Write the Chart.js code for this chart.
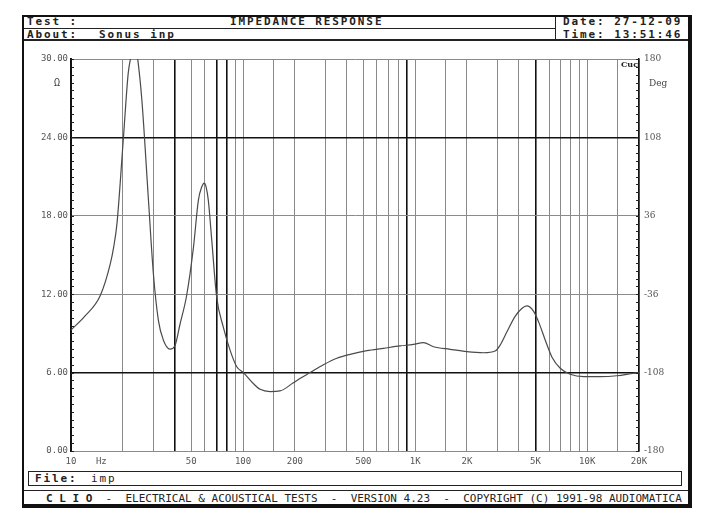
<!DOCTYPE html>
<html>
<head>
<meta charset="utf-8">
<script src="https://cdn.jsdelivr.net/npm/chart.js@4/dist/chart.umd.min.js"></script>
<style>
  html, body { margin: 0; padding: 0; background: #fff; }
  body { width: 705px; height: 524px; position: relative; overflow: hidden; font-family: "DejaVu Sans Mono", monospace; color: #1a1a1a; }
  .abs { position: absolute; }
  .frame { left: 22px; top: 15px; width: 670px; height: 493px; box-sizing: border-box;
           border-left: 2px solid #111; border-top: 2px solid #111; border-right: 4px solid #111; border-bottom: 4px solid #111; }
  .hline { height: 0; border-top: 1px solid #222; }
  .vline { width: 0; border-left: 1px solid #222; }
  .hdr { font-size: 11px; letter-spacing: 1.9px; line-height: 12px; white-space: pre; font-weight: bold; color: #222; }
  .foot { font-size: 11px; line-height: 12px; white-space: pre; letter-spacing: 0px; color: #222; }
  canvas { position: absolute; left: 0; top: 0; }
</style>
</head>
<body>
<div class="abs frame"></div>
<div class="abs hline" style="left:24px; top:28px; width:531px;"></div>
<div class="abs hline" style="left:24px; top:39px; width:664px; border-top-width:2px;"></div>
<div class="abs vline" style="left:555px; top:17px; height:23px;"></div>

<div class="abs hdr" style="left:27px; top:16px;">Test :</div>
<div class="abs hdr" style="left:230px; top:16px;">IMPEDANCE RESPONSE</div>
<div class="abs hdr" style="left:27px; top:29px;">About:</div>
<div class="abs hdr" style="left:99px; top:29px;">Sonus inp</div>
<div class="abs hdr" style="left:563px; top:16px;">Date: 27-12-09</div>
<div class="abs hdr" style="left:563px; top:29px;">Time: 13:51:46</div>

<div class="abs" style="left:28px; top:471px; width:654px; height:15px; box-sizing:border-box; border:1.5px solid #222;"></div>
<div class="abs hdr" style="left:35px; top:473px;">File:</div>
<div class="abs hdr" style="left:91px; top:473px; font-weight:normal;">imp</div>
<div class="abs hline" style="left:24px; top:490px; width:664px; border-top-width:1.5px;"></div>
<div class="abs foot" style="left:46px; top:493px;"><b>C L I O</b>  -  ELECTRICAL &amp; ACOUSTICAL TESTS  -  VERSION 4.23  -  COPYRIGHT (C) 1991-98 AUDIOMATICA</div>

<canvas id="c" width="705" height="524"></canvas>
<script>
// ---- data ----
const frequencies = [10, 12, 14.8, 16.9, 17.7, 18.5, 20.1, 21.5, 22.3, 23.3, 24.3, 25.8, 28.1, 30.1, 32.2, 34.4, 37.6, 40.3, 43, 47, 51.5, 55, 57.5, 59.5, 61, 62.8, 65.8, 70.2, 76.7, 84.1, 91.9, 100.5, 115, 125.6, 143.7, 164, 195, 214, 245, 293, 351, 419, 524, 655, 818, 978, 1117, 1278, 1597, 2000, 2497, 2918, 3119, 3410, 3812, 4169, 4457, 4872, 5210, 5699, 6233, 6970, 7964, 9520, 11900, 14870, 18600, 20000];
const impedance = [9.26, 10.3, 11.9, 14.3, 15.6, 17.4, 23.7, 28.9, 30.2, 31.5, 30.2, 26.9, 19.5, 13.6, 10.0, 8.5, 7.8, 8.1, 9.7, 11.9, 15.6, 19.2, 20.2, 20.5, 20.2, 19.2, 16.1, 11.8, 9.5, 7.7, 6.45, 6.0, 5.15, 4.72, 4.55, 4.6, 5.2, 5.55, 6.0, 6.6, 7.1, 7.4, 7.68, 7.86, 8.04, 8.16, 8.29, 7.98, 7.78, 7.6, 7.52, 7.65, 8.1, 9.1, 10.3, 10.9, 11.1, 10.7, 9.9, 8.5, 7.2, 6.33, 5.87, 5.69, 5.69, 5.76, 5.95, 6.0];

const xGridValues = [10, 15, 20, 30, 40, 50, 60, 70, 80, 90, 100, 150, 200, 300, 400, 500, 600, 700, 800, 900, 1000, 1500, 2000, 3000, 4000, 5000, 6000, 7000, 8000, 9000, 10000, 15000, 20000];
const xTickLabels = {10: '10', 15: 'Hz', 50: '50', 100: '100', 200: '200', 500: '500', 1000: '1K', 2000: '2K', 5000: '5K', 10000: '10K', 20000: '20K'};
const xDarkLines = [40, 70, 80, 900, 5000];
const leftTicks = [0, 6, 12, 18, 24, 30];
const leftDarkLines = [6, 24];
const rightTicks = [-180, -108, -36, 36, 108, 180];

// ---- chart ----
const decorations = {
  id: 'decorations',
  afterDraw(chart) {
    const c = chart.ctx, y = chart.scales.y, y1 = chart.scales.y1;
    const area = chart.chartArea;
    c.save();
    c.strokeStyle = '#222';
    c.lineWidth = 1;
    for (let v = 0; v <= 30.001; v += 0.6) {
      const p = Math.round(y.getPixelForValue(v)) + 0.5;
      c.beginPath(); c.moveTo(area.left, p); c.lineTo(area.left + 3, p); c.stroke();
    }
    for (let v = -180; v <= 180.001; v += 7.2) {
      const p = Math.round(y1.getPixelForValue(v)) + 0.5;
      c.beginPath(); c.moveTo(area.right - 3, p); c.lineTo(area.right, p); c.stroke();
    }
    // unit labels
    c.textBaseline = 'middle';
    c.fillStyle = '#444';
    c.font = '10px "DejaVu Sans Mono"';
    c.textAlign = 'center';
    c.fillText('Ω', area.left - 14, area.top + 24);
    c.font = '9px "DejaVu Serif"';
    c.textAlign = 'left';
    c.fillText('Deg', area.right + 10, area.top + 25);
    c.fillStyle = '#222';
    c.font = 'bold 8px "DejaVu Serif"';
    c.fillText('Cuc', area.right - 18, area.top + 6);
    c.restore();
  }
};

new Chart(document.getElementById('c'), {
  type: 'line',
  data: {
    datasets: [{
      data: frequencies.map((f, i) => ({x: f, y: impedance[i]})),
      borderColor: '#4a4a4a',
      borderWidth: 1.2,
      pointRadius: 0,
      cubicInterpolationMode: 'monotone',
      fill: false
    }]
  },
  options: {
    responsive: false,
    animation: false,
    devicePixelRatio: 1,
    layout: { padding: { left: 0, right: 0, top: 59, bottom: 53 } },
    plugins: { legend: { display: false }, tooltip: { enabled: false }, title: { display: false } },
    scales: {
      x: {
        type: 'logarithmic', min: 10, max: 20000,
        afterBuildTicks: s => { s.ticks = xGridValues.map(v => ({value: v})); },
        afterFit: s => { s.height = 20; },
        ticks: {
          autoSkip: false, maxRotation: 0, minRotation: 0, padding: 5,
          color: '#555', font: { family: 'DejaVu Sans Mono', size: 9 },
          callback: v => xTickLabels[v] !== undefined ? xTickLabels[v] : ''
        },
        grid: {
          drawTicks: false,
          color: ctx => ctx.tick && ctx.tick.value === 15 ? 'rgba(0,0,0,0)' : (xDarkLines.includes(ctx.tick && ctx.tick.value) ? '#111' : '#8a8a8a'),
          lineWidth: ctx => xDarkLines.includes(ctx.tick && ctx.tick.value) ? 1.6 : 1
        },
        border: { display: false }
      },
      y: {
        position: 'left', min: 0, max: 30,
        afterBuildTicks: s => { s.ticks = leftTicks.map(v => ({value: v})); },
        afterFit: s => { s.width = 71; },
        ticks: {
          padding: 3, color: '#555', font: { family: 'DejaVu Sans Mono', size: 9 },
          callback: v => Number(v).toFixed(2)
        },
        grid: {
          drawTicks: false,
          color: ctx => leftDarkLines.includes(ctx.tick && ctx.tick.value) ? '#111' : '#8a8a8a',
          lineWidth: ctx => leftDarkLines.includes(ctx.tick && ctx.tick.value) ? 1.6 : 1
        },
        border: { display: true, color: '#111', width: 2 }
      },
      y1: {
        position: 'right', min: -180, max: 180,
        afterBuildTicks: s => { s.ticks = rightTicks.map(v => ({value: v})); },
        afterFit: s => { s.width = 66; },
        ticks: {
          padding: 5, color: '#555', font: { family: 'DejaVu Serif', size: 9 },
          callback: v => String(v)
        },
        grid: { drawOnChartArea: false, drawTicks: false },
        border: { display: true, color: '#111', width: 1.5 }
      }
    }
  },
  plugins: [decorations]
});
</script>
</body>
</html>
